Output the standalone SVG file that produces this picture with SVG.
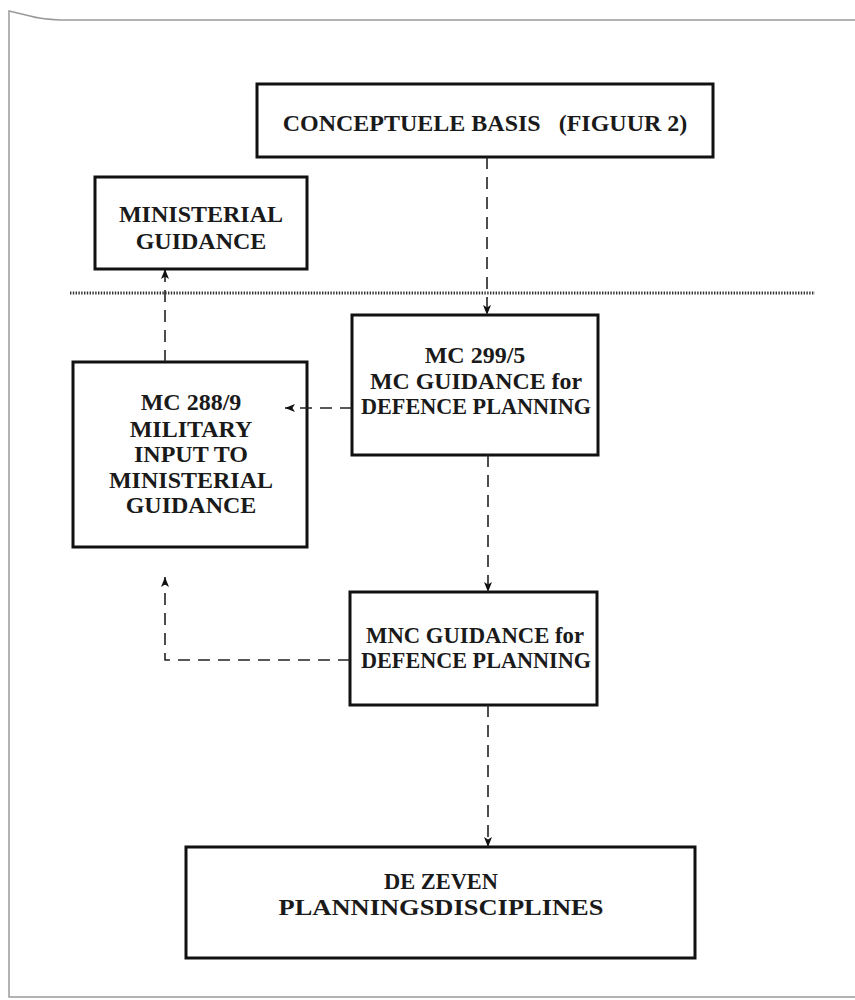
<svg xmlns="http://www.w3.org/2000/svg" width="855" height="1000" viewBox="0 0 855 1000">
  <defs>
    <marker id="arrow" markerWidth="10" markerHeight="8" refX="10" refY="4" orient="auto" markerUnits="userSpaceOnUse">
      <path d="M0,0 L10,4 L0,8 L2.5,4 Z" fill="#111"/>
    </marker>
    <style>
      .box { fill: #fff; stroke: #111; stroke-width: 3; }
      .lbl { font-family: "Liberation Serif", "Times New Roman", serif; font-weight: bold; font-size: 24px; fill: #1a1a1a; text-anchor: middle; }
      .dash { fill: none; stroke: #222; stroke-width: 1.6; stroke-dasharray: 12 8; marker-end: url(#arrow); }
      .frame { fill: none; stroke: #9a9a9a; stroke-width: 1.5; }
      .divider { stroke: #333; stroke-width: 3; stroke-dasharray: 1.4 1.4; }
    </style>
  </defs>

  <rect width="855" height="1000" fill="#fff"/>

  <!-- page frame -->
  <path class="frame" d="M855,20 L60,20 Q40,19 30,16 L9,11 L9,997 L855,997"/>

  <!-- level divider -->
  <line class="divider" x1="70" y1="293" x2="815" y2="293"/>

  <g id="conceptuele-basis">
    <rect class="box" x="257" y="84" width="456" height="73"/>
    <text class="lbl" x="485" y="131" style="white-space:pre" xml:space="preserve">CONCEPTUELE BASIS   (FIGUUR 2)</text>
  </g>

  <g id="ministerial-guidance">
    <rect class="box" x="95" y="177" width="212" height="92"/>
    <text class="lbl" x="201" y="222">MINISTERIAL</text>
    <text class="lbl" x="201" y="249">GUIDANCE</text>
  </g>

  <g id="mc-299-5">
    <rect class="box" x="352" y="315" width="246" height="140"/>
    <text class="lbl" x="475" y="363">MC 299/5</text>
    <text class="lbl" x="476" y="389" textLength="212" lengthAdjust="spacingAndGlyphs">MC GUIDANCE for</text>
    <text class="lbl" x="476" y="414" textLength="230" lengthAdjust="spacingAndGlyphs">DEFENCE PLANNING</text>
  </g>

  <g id="mc-288-9">
    <rect class="box" x="73" y="362" width="234" height="185"/>
    <text class="lbl" x="191" y="410">MC 288/9</text>
    <text class="lbl" x="191" y="437">MILITARY</text>
    <text class="lbl" x="191" y="462">INPUT TO</text>
    <text class="lbl" x="191" y="488">MINISTERIAL</text>
    <text class="lbl" x="191" y="513">GUIDANCE</text>
  </g>

  <g id="mnc-guidance">
    <rect class="box" x="350" y="592" width="247" height="113"/>
    <text class="lbl" x="475" y="643" textLength="218" lengthAdjust="spacingAndGlyphs">MNC GUIDANCE for</text>
    <text class="lbl" x="476" y="668" textLength="230" lengthAdjust="spacingAndGlyphs">DEFENCE PLANNING</text>
  </g>

  <g id="planningsdisciplines">
    <rect class="box" x="186" y="847" width="509" height="111"/>
    <text class="lbl" x="441" y="889" textLength="114" lengthAdjust="spacingAndGlyphs">DE ZEVEN</text>
    <text class="lbl" x="441" y="915" textLength="325" lengthAdjust="spacingAndGlyphs">PLANNINGSDISCIPLINES</text>
  </g>

  <g id="connectors">
    <path class="dash" d="M487,157 L487,315"/>
    <path class="dash" d="M352,408 L285,408"/>
    <path class="dash" d="M165,362 L165,269"/>
    <path class="dash" d="M488,455 L488,592"/>
    <path class="dash" d="M350,660 L165,660 L165,577"/>
    <path class="dash" d="M488,705 L488,847"/>
  </g>
</svg>
